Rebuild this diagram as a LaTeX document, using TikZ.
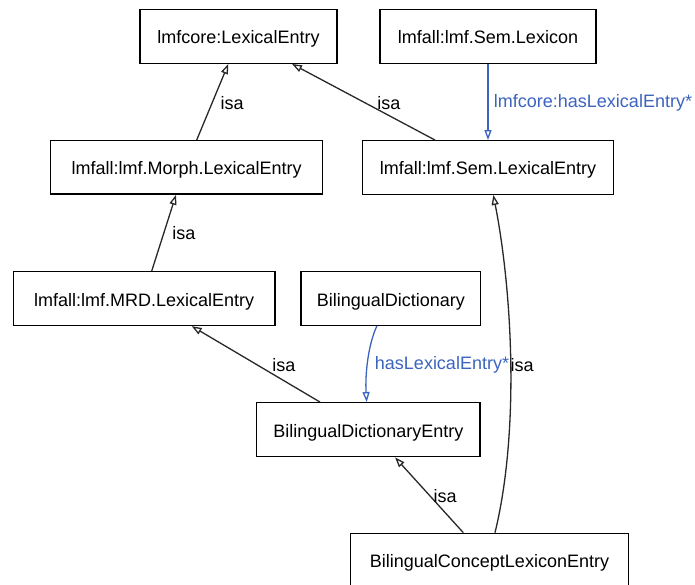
\documentclass[tikz,border=0pt]{standalone}
\usepackage{fontspec}
\setmainfont{Liberation Sans}
\usetikzlibrary{arrows.meta}
\definecolor{relblue}{RGB}{60,100,190}
\definecolor{edgegray}{RGB}{40,40,40}
\tikzset{
  cls/.style={draw=black, line width=1.3pt, fill=white, inner sep=0pt, align=center,
              text height=15pt, text depth=0pt,
              font=\fontsize{18}{21}\selectfont},
  isaedge/.style={draw=edgegray, line width=1.3pt, -{Triangle[open, length=10pt, width=7pt]}},
  reledge/.style={draw=relblue, line width=1.3pt, -{Triangle[open, length=10pt, width=7pt]}},
  lbl/.style={inner sep=1pt, anchor=west, font=\fontsize{18}{21}\selectfont, text=black},
  rellbl/.style={lbl, text=relblue},
}
\begin{document}
\begin{tikzpicture}[x=1pt, y=-1pt]
\useasboundingbox (0,0) rectangle (695,585);
\fill[white] (0,0) rectangle (695,585);

\node[cls, minimum width=197pt, minimum height=54pt] (core) at (238.5,36.3) {lmfcore:LexicalEntry};
\node[cls, minimum width=216pt, minimum height=54pt] (lex) at (488,36.3) {lmfall:lmf.Sem.Lexicon};
\node[cls, minimum width=272pt, minimum height=53.5pt] (morph) at (186.7,167.4) {lmfall:lmf.Morph.LexicalEntry};
\node[cls, minimum width=250.6pt, minimum height=53.6pt] (sem) at (488,167.5) {lmfall:lmf.Sem.LexicalEntry};
\node[cls, minimum width=261.7pt, minimum height=53.8pt] (mrd) at (144.2,298.6) {lmfall:lmf.MRD.LexicalEntry};
\node[cls, minimum width=179.5pt, minimum height=53.8pt] (bd) at (390.8,298.6) {BilingualDictionary};
\node[cls, minimum width=223.3pt, minimum height=54pt] (bde) at (368.3,429.7) {BilingualDictionaryEntry};
\node[cls, minimum width=277.6pt, minimum height=54pt] (bcle) at (489.5,560.3) {BilingualConceptLexiconEntry};

% isa edges
\draw[isaedge] ([xshift=10pt]morph.north) -- ([xshift=-10.2pt]core.south)
  node[lbl, pos=0.487, xshift=7pt] (l1) {isa};
\draw[isaedge] ([xshift=-53pt]sem.north) -- ([xshift=53.5pt]core.south)
  node[lbl, pos=0.487, xshift=10.3pt] (l2) {isa};
\draw[isaedge] ([xshift=7.5pt]mrd.north) -- ([xshift=-10.7pt]morph.south)
  node[lbl, pos=0.494, xshift=7pt] (l3) {isa};
\draw[isaedge] ([xshift=-48.3pt]bde.north) -- ([xshift=47.5pt]mrd.south)
  node[lbl, pos=0.488, xshift=13.3pt] (l4) {isa};
\draw[isaedge] ([xshift=-26.2pt]bcle.north) -- ([xshift=26.7pt]bde.south)
  node[lbl, pos=0.487, xshift=2pt] (l5) {isa};
\draw[isaedge] ([xshift=5.5pt]bcle.north) .. controls (520,430) and (512,290) .. ([xshift=5.3pt]sem.south)
  node[lbl, pos=0.5, xshift=-1.5pt, yshift=-4pt] (l6) {isa};

% relation edges
\draw[reledge] (lex.south) -- (sem.north)
  node[rellbl, pos=0.517, xshift=4.3pt] (r1) {lmfcore:hasLexicalEntry*};
\draw[reledge] ([xshift=-14pt]bd.south) .. controls (368,345) and (365,375) .. ([xshift=-1.6pt]bde.north)
  node[rellbl, pos=0.5, xshift=5.5pt, yshift=-4pt] (r2) {hasLexicalEntry*};
\end{tikzpicture}
\end{document}
